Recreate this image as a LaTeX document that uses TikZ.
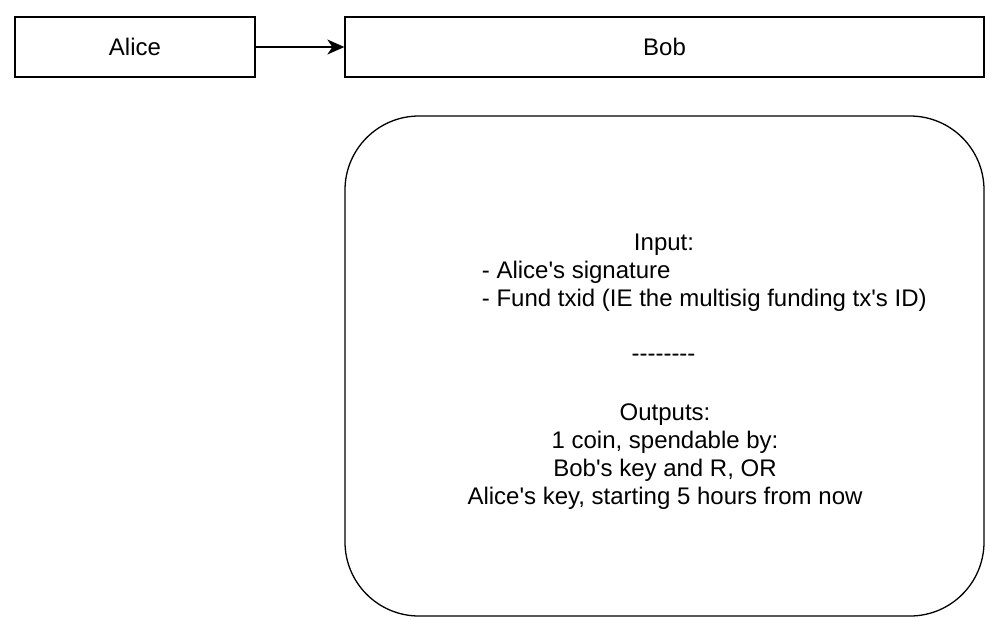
\documentclass[tikz,border=0pt]{standalone}
\usepackage{fontspec}
\setmainfont{Liberation Sans}[Ligatures=TeXOff]
\usetikzlibrary{arrows.meta}
\begin{document}
\begin{tikzpicture}[x=1pt,y=-1pt,
  box/.style={draw=black,line width=1.3pt,fill=white,inner sep=0pt,minimum height=60pt},
  txt/.style={inner sep=0pt,font=\fontsize{24}{27.6}\selectfont},
  conn/.style={line width=1.3pt,-{Stealth[length=17pt,width=15pt,inset=5pt]}}]
\useasboundingbox (0,0) rectangle (998,630);
\node[box,minimum width=240pt,font=\fontsize{24}{27.6}\selectfont] (alice) at (135,47) {Alice};
\node[box,minimum width=639pt,font=\fontsize{24}{27.6}\selectfont] (bob) at (664.5,47) {Bob};
\draw[conn] (alice.east) -- (bob.west);
\node[draw=black,line width=1.3pt,rounded corners=74pt,minimum width=639pt,minimum height=500pt,inner sep=0pt] (tx) at (664.5,366) {};
\node[txt,anchor=base] (l1) at (664,250.7) {Input:};
\node[txt,anchor=base west] (l2) at (481.7,278.3) {- Alice's signature};
\node[txt,anchor=base west] (l3) at (481.7,306) {- Fund txid (IE the multisig funding tx's ID)};
\node[txt,anchor=base] (l4) at (663.5,361.5) {--------};
\node[txt,anchor=base] (l5) at (665,420.7) {Outputs:};
\node[txt,anchor=base] (l6) at (665,448.3) {1 coin, spendable by:};
\node[txt,anchor=base] (l7) at (665,476) {Bob's key and R, OR};
\node[txt,anchor=base] (l8) at (665,504) {Alice's key, starting 5 hours from now};
\end{tikzpicture}
\end{document}
